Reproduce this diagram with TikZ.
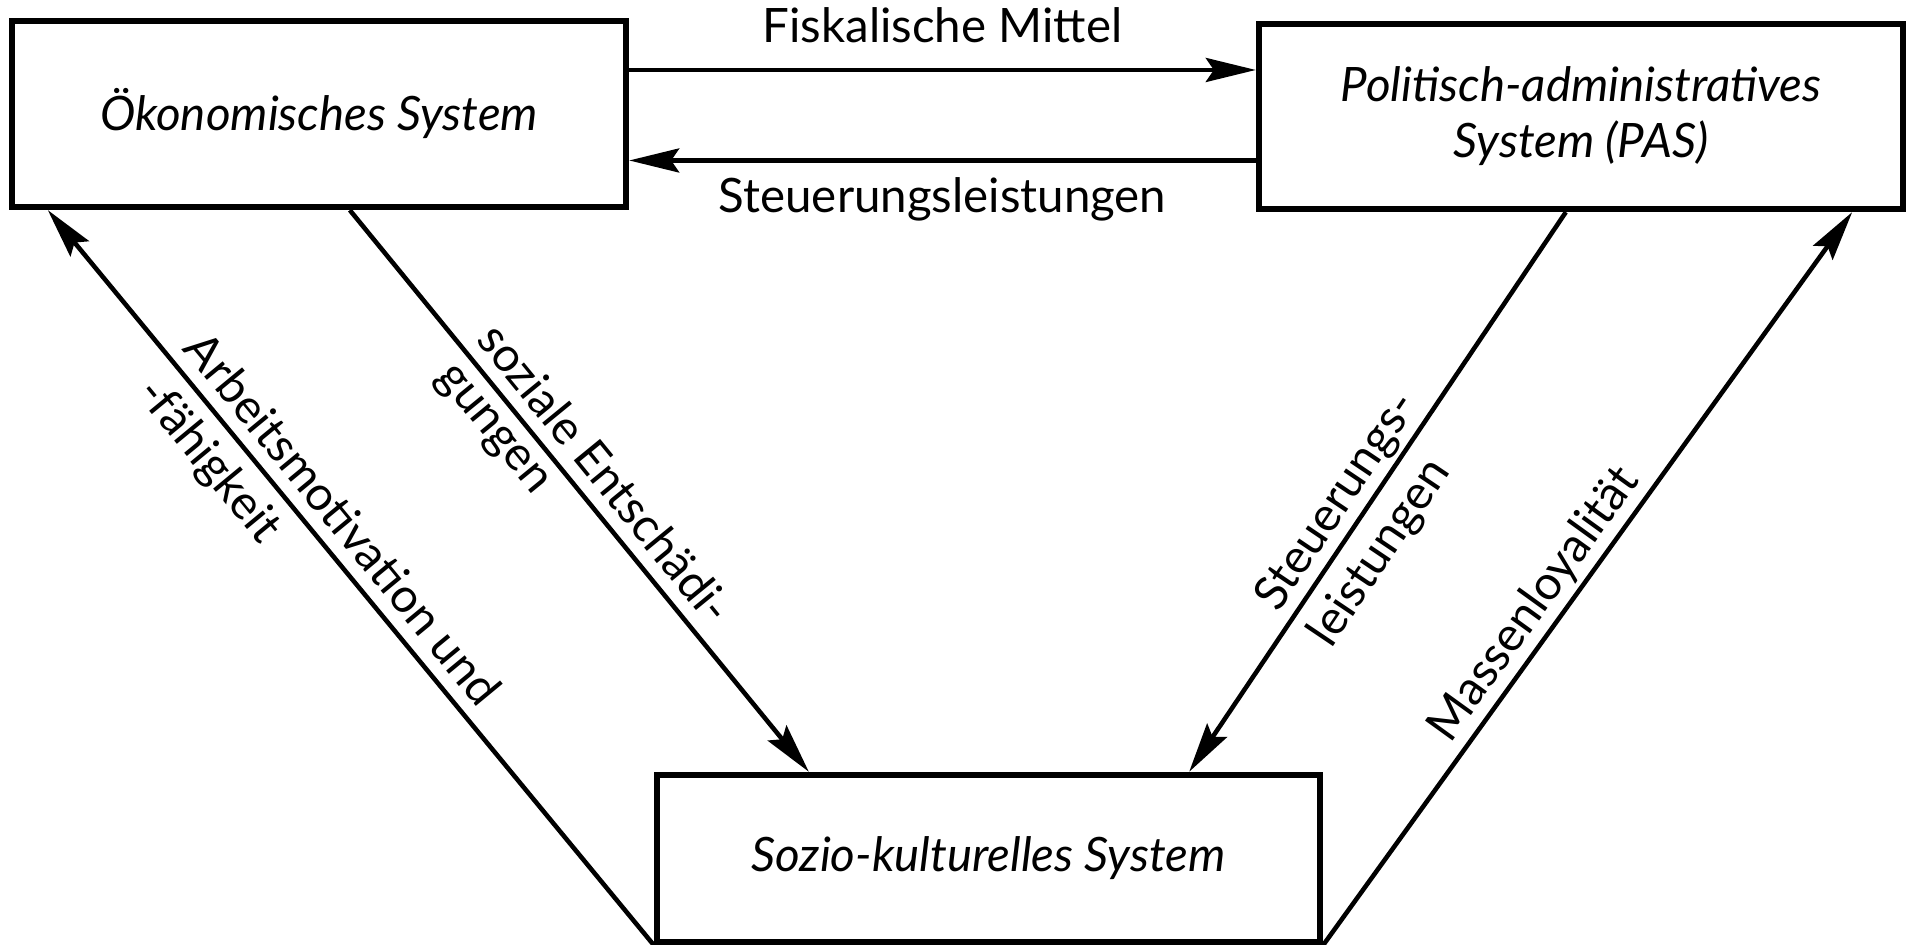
\documentclass[tikz,border=0pt]{standalone}
\usepackage{fontspec}
\setmainfont{Lato}
\usetikzlibrary{arrows.meta,calc}

\tikzset{
  sysbox/.style={draw, line width=1.8pt, align=center, inner sep=0pt,
    font=\fontsize{13.5}{16}\selectfont\itshape},
  flow/.style={line width=1.3pt, -{Stealth[length=5mm,width=2.4mm,inset=0.8mm]}},
  backflow/.style={line width=1.3pt, {Stealth[length=5mm,width=2.4mm,inset=0.8mm]}-},
  lab/.style={font=\fontsize{13.5}{16}\selectfont, inner sep=2pt},
  uplab/.style={lab, sloped, anchor=south west, text depth=0pt, inner ysep=3.5pt, inner xsep=0pt},
  lowlab/.style={lab, sloped, anchor=north west, inner ysep=3.5pt, inner xsep=0pt}
}

\begin{document}
\begin{tikzpicture}
		%%%%% START %%%%%
		\useasboundingbox (0, 0) rectangle (19.07, 9.45);
		
		\node[sysbox, minimum width=6.14cm, minimum height=1.86cm] (oek) at (3.19, 8.31) {Ökonomisches System};
		\node[sysbox, minimum width=6.44cm, minimum height=1.85cm] (pas) at (15.81, 8.285) {Politisch-administratives\\System (PAS)};
		\node[sysbox, minimum width=6.63cm, minimum height=1.67cm] (sozio) at (9.885, 0.865) {Sozio-kulturelles System};
		
		\coordinate (fisk) at ([yshift=4.4mm]oek.east);
		\coordinate (steu) at ([yshift=-4.4mm]pas.west);
		
		\draw[flow] (fisk) -- node[lab, above=1.8mm] {Fiskalische Mittel} (fisk -| pas.west);
		\draw[flow] (steu) -- node[lab, below=0.8mm] {Steuerungsleistungen} (steu -| oek.east);
		
		\draw[backflow] ([xshift=0.39cm]oek.south west) -- node[uplab, pos=0.20] {Arbeitsmotivation und} node[lowlab, pos=0.205] {-fähigkeit} (sozio.south west);
		\draw[flow] ([xshift=3.41cm]oek.south west) -- node[uplab, pos=0.245] {soziale Entschädi-} node[lowlab, pos=0.25] {gungen} ([xshift=1.55cm]sozio.north west);
		
		\draw[backflow] ([xshift=-1.34cm]sozio.north east) -- node[uplab, pos=0.265] {Steuerungs-} node[lowlab, pos=0.265] {leistungen} ([xshift=3.10cm]pas.south west);
		\draw[flow] (sozio.south east) -- node[uplab, pos=0.26] {Massenloyalität} ([xshift=-0.54cm]pas.south east);
		
		%%%%% END %%%%%
\end{tikzpicture}
\end{document}
